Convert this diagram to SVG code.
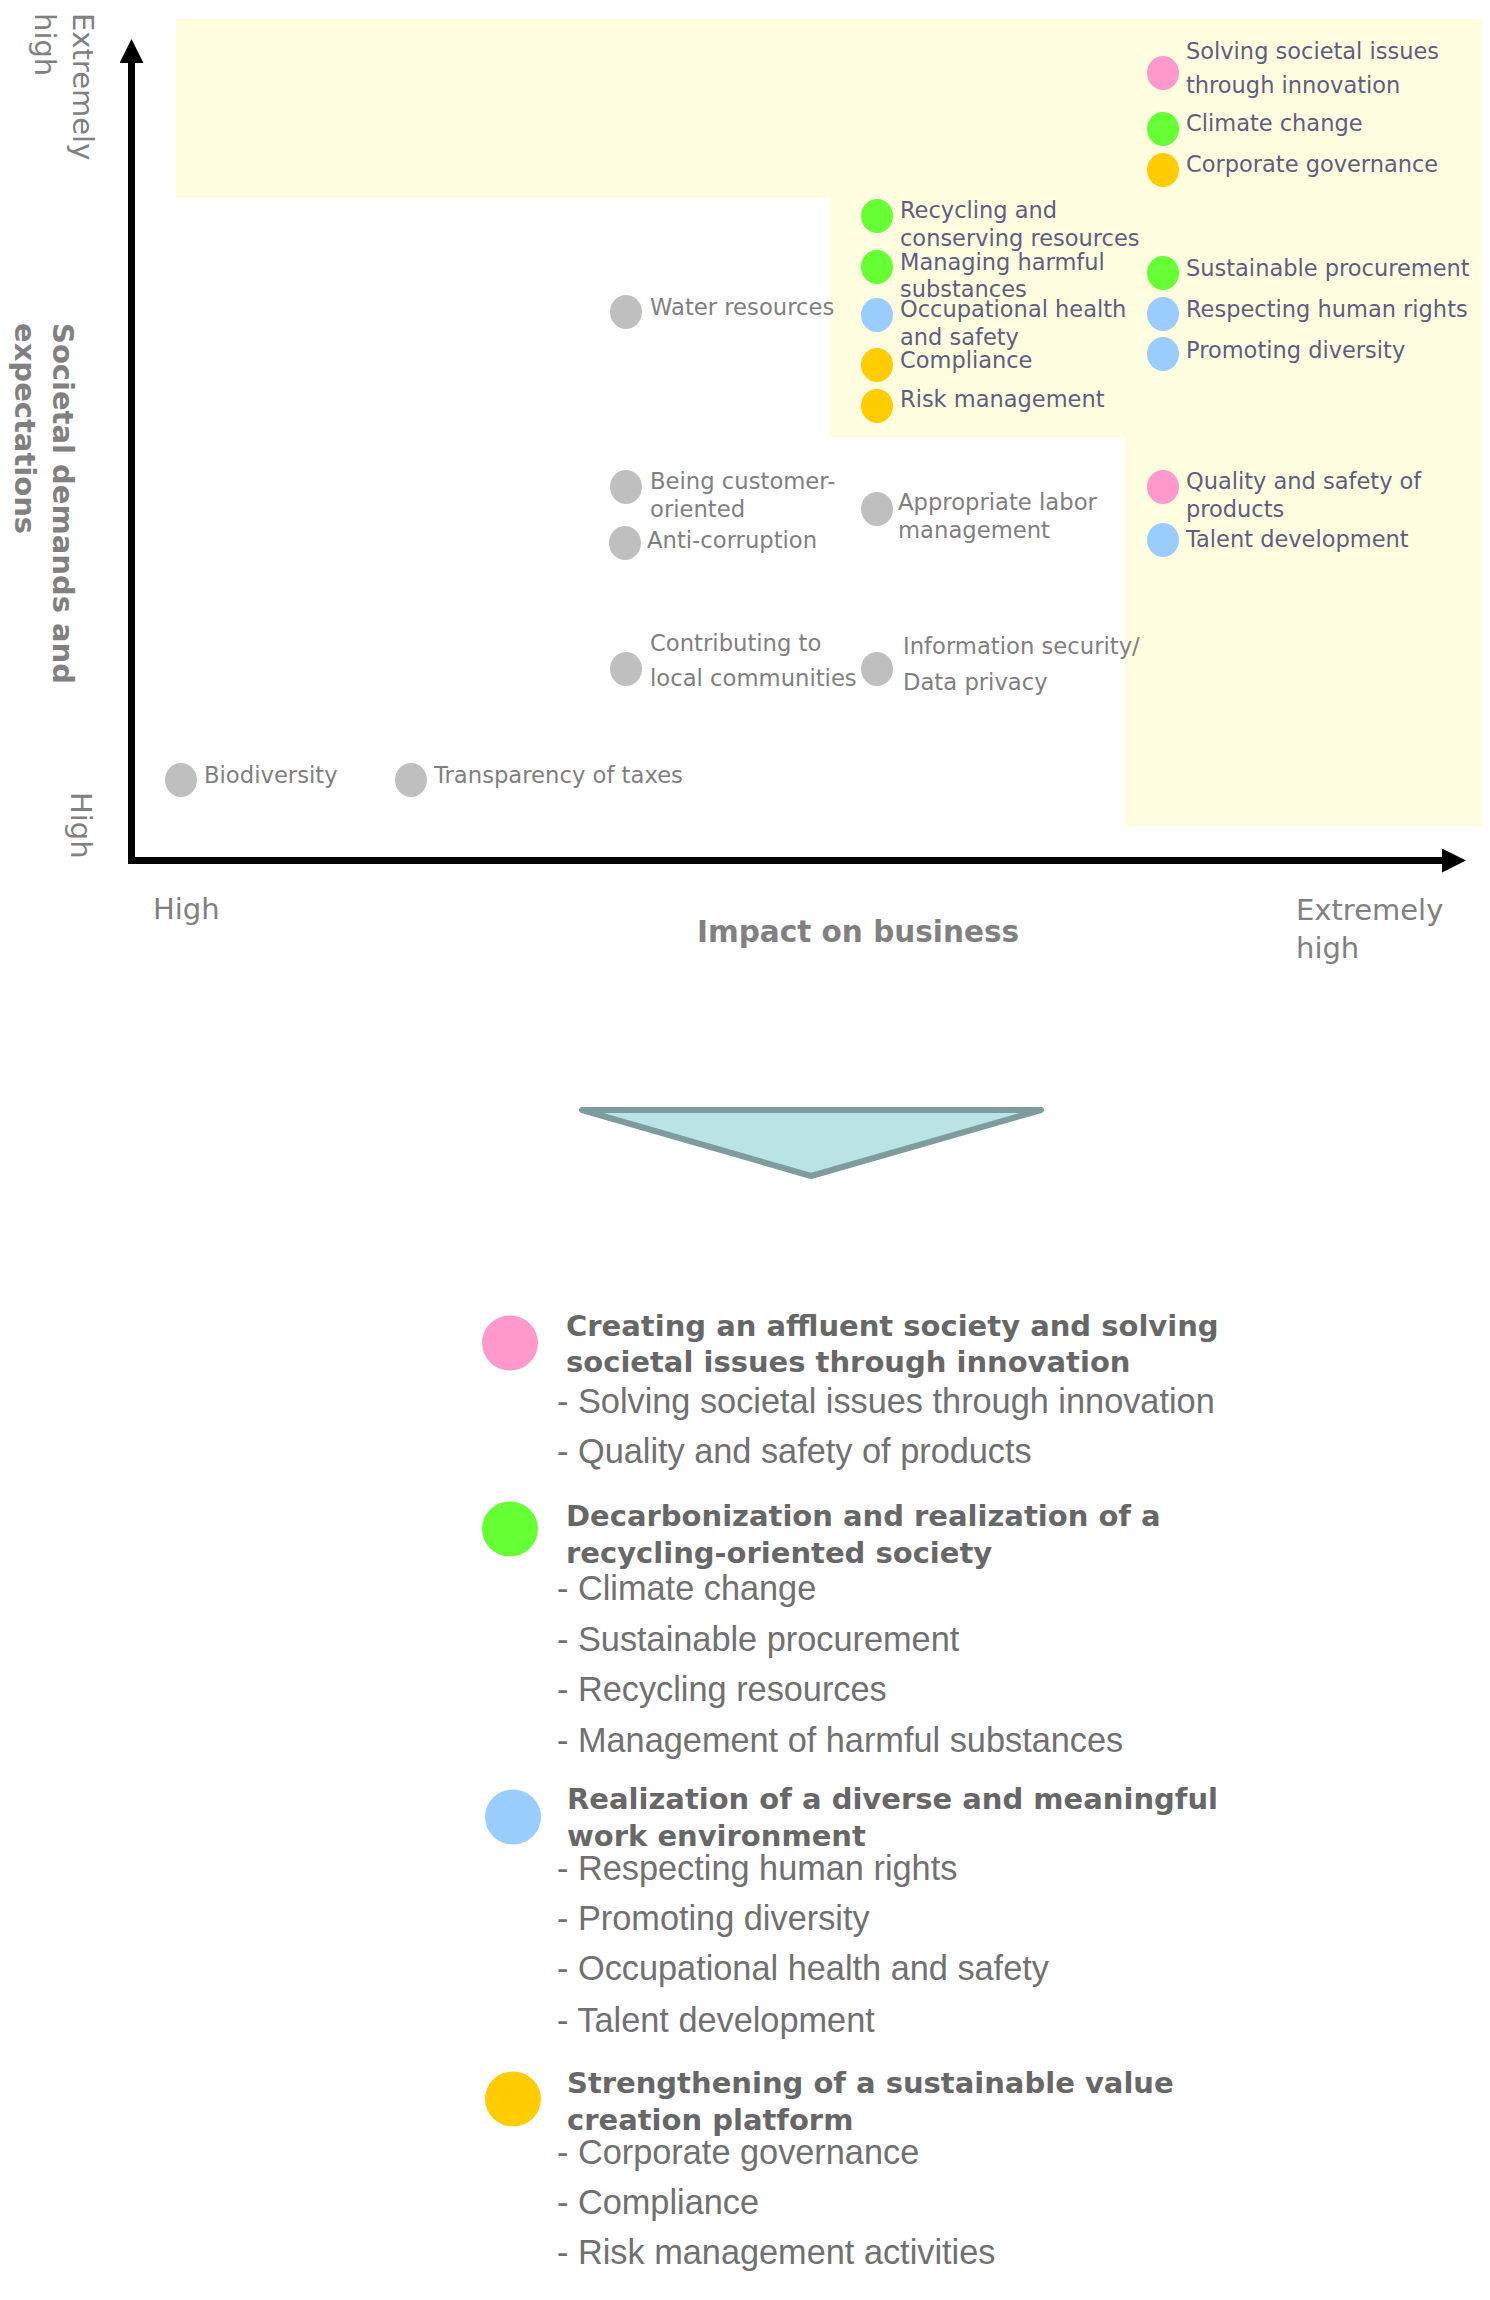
<svg xmlns="http://www.w3.org/2000/svg" width="1490" height="2300" viewBox="0 0 1490 2300">
<style>
  text { font-family: "DejaVu Sans", Verdana, sans-serif; }
  .lbl { font-size: 22.5px; fill: #5E5E7E; }
  .glbl { font-size: 22.7px; fill: #7F7F7F; }
  .ax { font-size: 29px; fill: #808080; }
  .axb { font-size: 29px; font-weight: bold; fill: #808080; }
  .lt { font-size: 29px; font-weight: bold; fill: #676767; }
  .ls { font-family: "Liberation Sans", Arial, sans-serif; font-size: 34.3px; fill: #707070; }
  .pk { fill: #FF99CC; }
  .gr { fill: #66FF33; }
  .bl { fill: #99CCFF; }
  .or { fill: #FFCC00; }
  .gy { fill: #BFBFBF; }
  .axis { stroke: #000; stroke-width: 7; fill: none; }
</style>
<defs>
  <marker id="arrow" viewBox="0 0 24 24" refX="0" refY="12" markerWidth="24" markerHeight="24" orient="auto" markerUnits="userSpaceOnUse">
    <path d="M0,0 L24,12 L0,24 z" fill="#000"/>
  </marker>
</defs>
<rect width="1490" height="2300" fill="#FFFFFF"/>

<g id="zone">
  <path d="M176,19 L1482,19 L1482,826 L1125,826 L1125,437 L830,437 L830,198 L176,198 Z" fill="#FFFDE0"/>
</g>

<g id="connectors">
  <line class="axis" x1="131.5" y1="864" x2="131.5" y2="63" marker-end="url(#arrow)"/>
  <line class="axis" x1="128" y1="860.5" x2="1442" y2="860.5" marker-end="url(#arrow)"/>
</g>

<g id="axis-labels">
  <text class="ax" transform="translate(73,13) rotate(90)">Extremely</text>
  <text class="ax" transform="translate(35,13) rotate(90)">high</text>
  <text class="axb" transform="translate(53,323) rotate(90)">Societal demands and</text>
  <text class="axb" transform="translate(15,323) rotate(90)">expectations</text>
  <text class="ax" transform="translate(71,792) rotate(90)">High</text>
  <text class="ax" x="153" y="919">High</text>
  <text class="axb" x="697" y="942" style="font-size:29.5px">Impact on business</text>
  <text class="ax" x="1296" y="920">Extremely</text>
  <text class="ax" x="1296" y="958">high</text>
</g>

<g id="node-solving">
  <ellipse class="pk" cx="1163" cy="73" rx="16" ry="17"/>
  <text class="lbl" x="1186" y="59">Solving societal issues</text>
  <text class="lbl" x="1186" y="93">through innovation</text>
</g>
<g id="node-climate">
  <ellipse class="gr" cx="1163" cy="129" rx="16" ry="17"/>
  <text class="lbl" x="1186" y="131">Climate change</text>
</g>
<g id="node-governance">
  <ellipse class="or" cx="1163" cy="170" rx="16" ry="17"/>
  <text class="lbl" x="1186" y="172">Corporate governance</text>
</g>
<g id="node-recycling">
  <ellipse class="gr" cx="877" cy="216" rx="16" ry="17"/>
  <text class="lbl" x="900" y="218">Recycling and</text>
  <text class="lbl" x="900" y="246">conserving resources</text>
</g>
<g id="node-harmful">
  <ellipse class="gr" cx="877" cy="267" rx="16" ry="17"/>
  <text class="lbl" x="900" y="270">Managing harmful</text>
  <text class="lbl" x="900" y="297">substances</text>
</g>
<g id="node-ohs">
  <ellipse class="bl" cx="877" cy="315" rx="16" ry="17"/>
  <text class="lbl" x="900" y="317">Occupational health</text>
  <text class="lbl" x="900" y="345">and safety</text>
</g>
<g id="node-compliance">
  <ellipse class="or" cx="877" cy="365" rx="16" ry="17"/>
  <text class="lbl" x="900" y="368">Compliance</text>
</g>
<g id="node-risk">
  <ellipse class="or" cx="877" cy="406" rx="16" ry="17"/>
  <text class="lbl" x="900" y="407">Risk management</text>
</g>
<g id="node-procurement">
  <ellipse class="gr" cx="1163" cy="273" rx="16" ry="17"/>
  <text class="lbl" x="1186" y="276">Sustainable procurement</text>
</g>
<g id="node-human-rights">
  <ellipse class="bl" cx="1163" cy="314" rx="16" ry="17"/>
  <text class="lbl" x="1186" y="317">Respecting human rights</text>
</g>
<g id="node-diversity">
  <ellipse class="bl" cx="1163" cy="354" rx="16" ry="17"/>
  <text class="lbl" x="1186" y="358">Promoting diversity</text>
</g>
<g id="node-quality">
  <ellipse class="pk" cx="1163" cy="487" rx="16" ry="17"/>
  <text class="lbl" x="1186" y="489">Quality and safety of</text>
  <text class="lbl" x="1186" y="517">products</text>
</g>
<g id="node-talent">
  <ellipse class="bl" cx="1163" cy="540" rx="16" ry="17"/>
  <text class="lbl" x="1186" y="547">Talent development</text>
</g>

<g id="node-water">
  <ellipse class="gy" cx="626" cy="312" rx="16" ry="17"/>
  <text class="glbl" x="650" y="315">Water resources</text>
</g>
<g id="node-customer">
  <ellipse class="gy" cx="626" cy="487" rx="16" ry="17"/>
  <text class="glbl" x="650" y="489">Being customer-</text>
  <text class="glbl" x="650" y="517">oriented</text>
</g>
<g id="node-anticorruption">
  <ellipse class="gy" cx="625" cy="543" rx="16" ry="17"/>
  <text class="glbl" x="647" y="548">Anti-corruption</text>
</g>
<g id="node-labor">
  <ellipse class="gy" cx="877" cy="509" rx="16" ry="17"/>
  <text class="glbl" x="898" y="510">Appropriate labor</text>
  <text class="glbl" x="898" y="538">management</text>
</g>
<g id="node-communities">
  <ellipse class="gy" cx="626" cy="669" rx="16" ry="17"/>
  <text class="glbl" x="650" y="651">Contributing to</text>
  <text class="glbl" x="650" y="686">local communities</text>
</g>
<g id="node-infosec">
  <ellipse class="gy" cx="877" cy="669" rx="16" ry="17"/>
  <text class="glbl" x="903" y="654">Information security/</text>
  <text class="glbl" x="903" y="690">Data privacy</text>
</g>
<g id="node-biodiversity">
  <ellipse class="gy" cx="181" cy="780" rx="16" ry="17"/>
  <text class="glbl" x="204" y="783">Biodiversity</text>
</g>
<g id="node-taxes">
  <ellipse class="gy" cx="411" cy="780" rx="16" ry="17"/>
  <text class="glbl" x="434" y="783">Transparency of taxes</text>
</g>

<g id="down-arrow">
  <polygon points="582,1110 1041,1110 811,1176" fill="#BAE3E6" stroke="#7E9C9E" stroke-width="6" stroke-linejoin="round"/>
</g>

<g id="legend-pink">
  <ellipse class="pk" cx="510" cy="1343" rx="28" ry="27.5"/>
  <text class="lt" x="566" y="1336">Creating an affluent society and solving</text>
  <text class="lt" x="566" y="1372">societal issues through innovation</text>
  <text class="ls" x="557" y="1413">- Solving societal issues through innovation</text>
  <text class="ls" x="557" y="1463">- Quality and safety of products</text>
</g>
<g id="legend-green">
  <ellipse class="gr" cx="510" cy="1529" rx="28" ry="27.5"/>
  <text class="lt" x="566" y="1526">Decarbonization and realization of a</text>
  <text class="lt" x="566" y="1563">recycling-oriented society</text>
  <text class="ls" x="557" y="1600">- Climate change</text>
  <text class="ls" x="557" y="1651">- Sustainable procurement</text>
  <text class="ls" x="557" y="1701">- Recycling resources</text>
  <text class="ls" x="557" y="1752">- Management of harmful substances</text>
</g>
<g id="legend-blue">
  <ellipse class="bl" cx="513" cy="1817" rx="28" ry="27.5"/>
  <text class="lt" x="567" y="1809">Realization of a diverse and meaningful</text>
  <text class="lt" x="567" y="1846">work environment</text>
  <text class="ls" x="557" y="1880">- Respecting human rights</text>
  <text class="ls" x="557" y="1930">- Promoting diversity</text>
  <text class="ls" x="557" y="1980">- Occupational health and safety</text>
  <text class="ls" x="557" y="2032">- Talent development</text>
</g>
<g id="legend-orange">
  <ellipse class="or" cx="513" cy="2099" rx="28" ry="27.5"/>
  <text class="lt" x="567" y="2093">Strengthening of a sustainable value</text>
  <text class="lt" x="567" y="2130">creation platform</text>
  <text class="ls" x="557" y="2164">- Corporate governance</text>
  <text class="ls" x="557" y="2214">- Compliance</text>
  <text class="ls" x="557" y="2264">- Risk management activities</text>
</g>
</svg>
